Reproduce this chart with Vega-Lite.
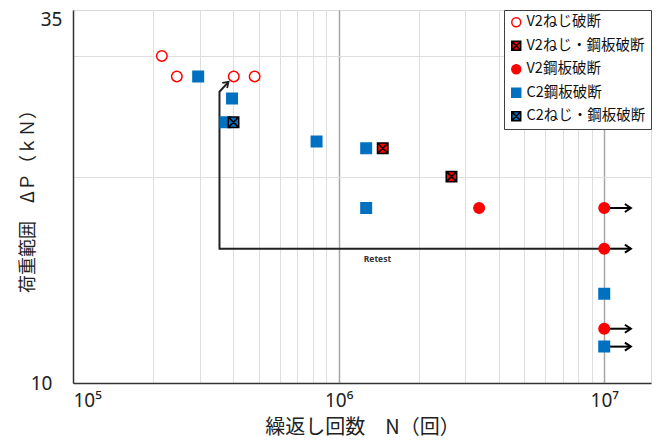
{
  "$schema": "https://vega.github.io/schema/vega-lite/v6.json",
  "width": 578,
  "height": 373,
  "autosize": {"type": "none"},
  "padding": {"left": 73, "top": 10, "right": 10, "bottom": 58},
  "background": "white",
  "datasets": {
    "tests": [
      {"series": "V2ねじ破断", "N": 216000, "P": 30},
      {"series": "V2ねじ破断", "N": 246000, "P": 28},
      {"series": "V2ねじ破断", "N": 403000, "P": 28},
      {"series": "V2ねじ破断", "N": 483000, "P": 28},
      {"series": "C2鋼板破断", "N": 296000, "P": 28},
      {"series": "C2鋼板破断", "N": 397000, "P": 26},
      {"series": "C2鋼板破断", "N": 375000, "P": 24},
      {"series": "C2ねじ・鋼板破断", "N": 402000, "P": 24},
      {"series": "C2鋼板破断", "N": 826000, "P": 22.5},
      {"series": "C2鋼板破断", "N": 1270000, "P": 22},
      {"series": "V2ねじ・鋼板破断", "N": 1466000, "P": 22},
      {"series": "V2ねじ・鋼板破断", "N": 2660000, "P": 20},
      {"series": "C2鋼板破断", "N": 1270000, "P": 18},
      {"series": "V2鋼板破断", "N": 3380000, "P": 18},
      {"series": "V2鋼板破断", "N": 10000000, "P": 18},
      {"series": "V2鋼板破断", "N": 10000000, "P": 15.7},
      {"series": "C2鋼板破断", "N": 10000000, "P": 13.5},
      {"series": "V2鋼板破断", "N": 10000000, "P": 12},
      {"series": "C2鋼板破断", "N": 10000000, "P": 11.3}
    ],
    "runouts": [
      {"id": "r18", "part": "base", "N": 10000000, "P": 18},
      {"id": "r18", "part": "tip", "N": 12600000, "P": 18},
      {"id": "r157", "part": "base", "N": 10000000, "P": 15.7},
      {"id": "r157", "part": "tip", "N": 12600000, "P": 15.7},
      {"id": "r12", "part": "base", "N": 10000000, "P": 12},
      {"id": "r12", "part": "tip", "N": 12600000, "P": 12},
      {"id": "r113", "part": "base", "N": 10000000, "P": 11.3},
      {"id": "r113", "part": "tip", "N": 12600000, "P": 11.3}
    ],
    "retest": [
      {"step": 1, "N": 10000000, "P": 15.7},
      {"step": 2, "N": 356000, "P": 15.7},
      {"step": 3, "N": 356000, "P": 26.6},
      {"step": 4, "N": 385000, "P": 27.5}
    ],
    "notes": [
      {"label": "Retest", "N": 1400000, "P": 15.15}
    ]
  },
  "encoding": {
    "x": {
      "field": "N",
      "type": "quantitative",
      "scale": {"type": "log", "domain": [100000, 15000000], "nice": false},
      "axis": {
        "title": "繰返し回数　N（回）",
        "values": [100000, 200000, 300000, 400000, 500000, 600000, 700000, 800000, 900000,
                   1000000, 2000000, 3000000, 4000000, 5000000, 6000000, 7000000, 8000000, 9000000, 10000000],
        "labelExpr": "datum.value == 100000 ? '10⁵' : datum.value == 1000000 ? '10⁶' : datum.value == 10000000 ? '10⁷' : ''",
        "labelOverlap": false,
        "labelPadding": 8,
        "ticks": false,
        "grid": true,
        "gridColor": {"condition": {"test": "datum.value == 1000000 || datum.value == 10000000", "value": "#a6a6a6"}, "value": "#dedede"},
        "gridWidth": {"condition": {"test": "datum.value == 1000000 || datum.value == 10000000", "value": 1.5}, "value": 1},
        "encode": {"labels": {"update": {"dx": {"signal": "datum.value == 100000 ? 19 : datum.value == 10000000 ? 5 : 2"}}}},
        "titlePadding": 7,
        "titleFontSize": 20
      }
    },
    "y": {
      "field": "P",
      "type": "quantitative",
      "scale": {"type": "log", "domain": [10, 35], "nice": false},
      "axis": {
        "title": "荷重範囲　ΔＰ（ｋＮ）",
        "values": [10, 20, 30, 35],
        "labelExpr": "datum.value == 10 || datum.value == 35 ? datum.label : ''",
        "labelOverlap": false,
        "labelBaseline": {"condition": {"test": "datum.value == 35", "value": "top"}, "value": "middle"},
        "labelPadding": {"condition": {"test": "datum.value == 35", "value": 11}, "value": 21},
        "ticks": false,
        "grid": true,
        "gridColor": {"condition": {"test": "datum.value == 20 || datum.value == 30", "value": "#dedede"}, "value": "transparent"},
        "titleX": -36,
        "titleFontSize": 18
      }
    }
  },
  "layer": [
    {
      "data": {"name": "runouts"},
      "mark": {"type": "line", "color": "black", "strokeWidth": 2},
      "encoding": {"detail": {"field": "id"}}
    },
    {
      "data": {"name": "runouts"},
      "transform": [{"filter": "datum.part == 'tip'"}],
      "mark": {"type": "point", "shape": "M-1.5,-1L0,0L-1.5,1", "size": 64, "filled": false, "color": "black", "strokeWidth": 2, "opacity": 1}
    },
    {
      "data": {"name": "retest"},
      "mark": {"type": "line", "color": "#222", "strokeWidth": 2},
      "encoding": {"order": {"field": "step"}}
    },
    {
      "data": {"name": "retest"},
      "transform": [{"filter": "datum.step == 4"}],
      "mark": {"type": "point", "shape": "M-1.5,-1L0,0L-1.5,1", "size": 50, "angle": -44, "filled": false, "color": "#222", "strokeWidth": 1.8, "opacity": 1}
    },
    {
      "data": {"name": "notes"},
      "mark": {"type": "text", "font": "Noto Sans", "fontSize": 8.5, "fontWeight": "bold", "color": "#333"},
      "encoding": {"text": {"field": "label"}}
    },
    {
      "data": {"name": "tests"},
      "mark": {"type": "point", "size": 110, "strokeWidth": 1.5, "opacity": 1, "fillOpacity": 1},
      "encoding": {
        "shape": {
          "field": "series",
          "type": "nominal",
          "scale": {
            "domain": ["V2ねじ破断", "V2ねじ・鋼板破断", "V2鋼板破断", "C2鋼板破断", "C2ねじ・鋼板破断"],
            "range": ["circle", "M-1,-1L1,-1L1,1L-1,1Z M-1,-1L1,1 M1,-1L-1,1", "circle", "square", "M-1,-1L1,-1L1,1L-1,1Z M-1,-1L1,1 M1,-1L-1,1"]
          },
          "legend": {"title": null}
        },
        "fill": {
          "field": "series",
          "type": "nominal",
          "scale": {
            "domain": ["V2ねじ破断", "V2ねじ・鋼板破断", "V2鋼板破断", "C2鋼板破断", "C2ねじ・鋼板破断"],
            "range": ["white", "#ff0000", "#ff0000", "#0070c0", "#0070c0"]
          },
          "legend": {"title": null}
        },
        "stroke": {
          "field": "series",
          "type": "nominal",
          "scale": {
            "domain": ["V2ねじ破断", "V2ねじ・鋼板破断", "V2鋼板破断", "C2鋼板破断", "C2ねじ・鋼板破断"],
            "range": ["#ff0000", "#000000", "#ff0000", "#0070c0", "#000000"]
          },
          "legend": {"title": null}
        }
      }
    }
  ],
  "config": {
    "view": {"stroke": "#d9d9d9"},
    "axis": {
      "domainColor": "#333",
      "domainWidth": 1.5,
      "labelFont": "Noto Sans",
      "labelFontSize": 19,
      "labelColor": "#222",
      "titleFont": "Noto Sans CJK JP",
      "titleFontWeight": "normal",
      "titleColor": "#222"
    },
    "legend": {
      "orient": "top-right",
      "offset": 0,
      "padding": 5,
      "rowPadding": 7.5,
      "strokeColor": "#404040",
      "fillColor": "white",
      "labelFont": "Noto Sans CJK JP",
      "labelFontSize": 14.5,
      "labelColor": "#111",
      "labelOffset": 3,
      "labelLimit": 0,
      "symbolSize": 80,
      "symbolStrokeWidth": 1.5
    }
  }
}
